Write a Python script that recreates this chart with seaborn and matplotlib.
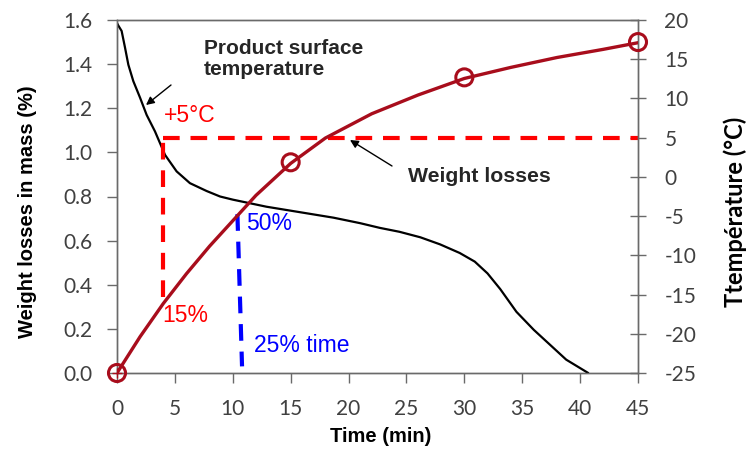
import matplotlib
matplotlib.use("Agg")
import matplotlib.pyplot as plt
import seaborn as sns
import pandas as pd

# ---- data ----
time_weight = [0, 2, 4, 6, 8, 10, 12, 15, 18, 20, 22, 26, 30, 34, 38, 42, 45]
weight_loss = [0, 0.165, 0.315, 0.45, 0.575, 0.69, 0.805, 0.95, 1.065, 1.12, 1.175, 1.26, 1.335, 1.385, 1.43, 1.467, 1.497]
marker_time = [0, 15, 30, 45]
marker_weight = [0, 0.955, 1.34, 1.5]

time_temp = [0, 0.11, 0.4, 0.69, 0.98, 1.41, 1.99, 2.56, 3.28, 4.15, 5.15, 6.3, 7.74, 8.9, 10,
             12.9, 15.8, 18.7, 21.0, 22.7, 24.4, 26.2, 27.9, 29.6, 30.9, 32.0, 33.1, 34.5, 36.0,
             37.4, 38.8, 40.7]
temperature = [19.6, 19.3, 18.6, 16.5, 14.3, 12.2, 10.1, 7.9, 5.8, 2.8, 0.7, -0.8, -1.8, -2.5, -2.9,
               -3.8, -4.5, -5.2, -5.9, -6.5, -7.0, -7.7, -8.6, -9.7, -10.8, -12.3, -14.3, -17.2, -19.5,
               -21.4, -23.3, -25]

x_ticks = [0, 5, 10, 15, 20, 25, 30, 35, 40, 45]
y_left_ticks = [0.0, 0.2, 0.4, 0.6, 0.8, 1.0, 1.2, 1.4, 1.6]
y_right_ticks = [-25, -20, -15, -10, -5, 0, 5, 10, 15, 20]

red_dash_time = [4.0, 4.0]
red_dash_weight = [0.345, 1.0667]
red_h_time = [4.0, 45]
red_h_temp = [5, 5]
blue_dash_time = [10.4, 10.8]
blue_dash_weight = [0.72, 0.03]

sns.set_theme(style="white")
plt.rcParams["font.family"] = ["Liberation Sans", "DejaVu Sans"]
plt.rcParams["axes.unicode_minus"] = False

fig = plt.figure(figsize=(7.51, 4.53), dpi=100)
ax = fig.add_axes([117/751, 1-373/453, (638-117)/751, (373-20)/453])
ax2 = ax.twinx()

spine_col = "#6a6a6a"
tick_col = "#404040"
tick_font = "Lato"

df_w = pd.DataFrame({"t": time_weight, "w": weight_loss})
df_m = pd.DataFrame({"t": marker_time, "w": marker_weight})
df_T = pd.DataFrame({"t": time_temp, "T": temperature})

dark_red = "#a80d1c"
# dashed annotation lines
ax.plot(red_dash_time, red_dash_weight, color="#ff0000", lw=3, dashes=(4, 2.6), zorder=2)
ax2.plot(red_h_time, red_h_temp, color="#ff0000", lw=3, dashes=(4, 2.6), zorder=2, clip_on=False)
ax.plot(blue_dash_time, blue_dash_weight, color="#0000ff", lw=3, dashes=(4, 2.6), zorder=2)

sns.lineplot(data=df_w, x="t", y="w", ax=ax, color=dark_red, lw=2.4, zorder=4)
sns.scatterplot(data=df_m, x="t", y="w", ax=ax, marker="o", s=150, facecolors="none",
                edgecolor=dark_red, linewidth=2.2, zorder=5, clip_on=False)
ax.scatter([0], [0], marker="+", s=60, color=dark_red, lw=1, zorder=5, clip_on=False)
sns.lineplot(data=df_T, x="t", y="T", ax=ax2, color="black", lw=1.6, zorder=3)

ax.set_xlim(0, 45)
ax.set_ylim(0, 1.6)
ax2.set_ylim(-25, 20)
ax.set_xticks(x_ticks)
ax.set_yticks(y_left_ticks)
ax.set_yticklabels([f"{v:.1f}" for v in y_left_ticks])
ax2.set_yticks(y_right_ticks)
ax2.set_yticklabels([str(v) for v in y_right_ticks])

for a in (ax, ax2):
    for s in a.spines.values():
        s.set_color(spine_col)
        s.set_linewidth(1.0)
ax.tick_params(axis="both", which="both", color=spine_col, labelcolor=tick_col,
               labelsize=15, width=1.0)
ax.tick_params(axis="x", direction="out", length=7, pad=12, bottom=True)
ax.tick_params(axis="y", direction="out", length=7, pad=11, left=True)
ax2.tick_params(axis="y", direction="inout", length=12, pad=13, color=spine_col,
                labelcolor=tick_col, labelsize=15, width=1.0, right=True)
for lab in ax.get_xticklabels() + ax.get_yticklabels() + ax2.get_yticklabels():
    lab.set_fontfamily(tick_font)

ax.set_xlabel("")
ax.set_ylabel("")
ax2.set_ylabel("")
fig.text(381/751, 1-437/453, "Time (min)", ha="center", va="center", fontsize=14.5,
         fontweight="bold", color="black")
fig.text(28/751, 1-212/453, "Weight losses in mass (%)", ha="center", va="center",
         rotation=90, fontsize=14.5, fontweight="bold", color="black")
fig.text(735/751, 1-212/453, "Ttempérature (°C)", ha="center", va="center",
         rotation=90, fontsize=17, fontweight="bold", color="black", family="Lato")

def px(x, y):
    return ((x - 117) / (521 / 45), (373 - y) / (353 / 1.6))

ax.text(*px(204, 59), "Product surface\ntemperature", ha="left", va="center",
        fontsize=15, fontweight="bold", linespacing=1.1, zorder=6)
ax.text(*px(408, 176), "Weight losses", ha="left", va="center",
        fontsize=15.3, fontweight="bold", zorder=6)
ax.annotate("", xy=px(146, 105), xytext=px(171, 85),
            arrowprops=dict(arrowstyle="-|>", color="black", lw=1.0,
                            mutation_scale=12, shrinkA=0, shrinkB=0))
ax.annotate("", xy=px(350, 140), xytext=px(392, 166),
            arrowprops=dict(arrowstyle="-|>", color="black", lw=1.0,
                            mutation_scale=12, shrinkA=0, shrinkB=0))

ax.text(*px(164, 116), "+5°C", ha="left", va="center", fontsize=16.5, color="#ff0000", zorder=6)
ax.text(*px(162, 316), "15%", ha="left", va="center", fontsize=16.5, color="#ff0000", zorder=6)
ax.text(*px(246, 223), "50%", ha="left", va="center", fontsize=16.5, color="#0000ff", zorder=6)
ax.text(*px(254, 346), "25% time", ha="left", va="center", fontsize=16.5, color="#0000ff", zorder=6)

ax.set_zorder(ax2.get_zorder() + 1)
ax.patch.set_visible(False)

fig.savefig("out.png", dpi=100)
